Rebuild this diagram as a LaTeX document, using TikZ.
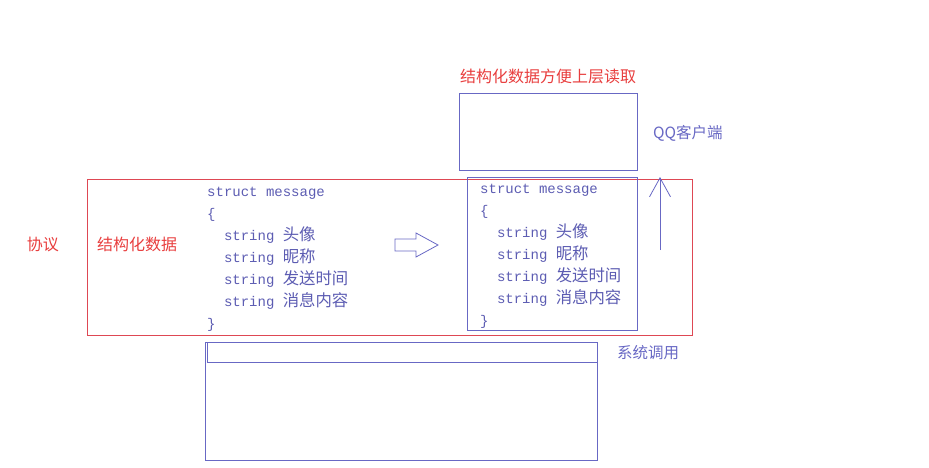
\documentclass[tikz,border=0pt]{standalone}
\usepackage{fontspec}
\setmonofont{Liberation Mono}
\newfontfamily\cjk{Noto Sans CJK SC}
\newfontfamily\cjkcode[Scale=1.17]{Noto Sans CJK SC}
\usetikzlibrary{arrows.meta}
\definecolor{protored}{RGB}{222,72,84}
\definecolor{labelred}{RGB}{232,62,62}
\definecolor{boxblue}{RGB}{104,104,196}
\definecolor{codeblue}{RGB}{92,92,178}
\newcommand{\msgcode}{%
  struct message\\
  \{\\
  \phantom{xx}string {\cjkcode 头像}\\
  \phantom{xx}string {\cjkcode 昵称}\\
  \phantom{xx}string {\cjkcode 发送时间}\\
  \phantom{xx}string {\cjkcode 消息内容}\\
  \}}
\tikzset{
  redlabel/.style={text=labelred,font=\cjk\fontsize{16}{18}\selectfont,inner sep=0pt},
  bluelabel/.style={text=boxblue,font=\cjk\fontsize{15.5}{18}\selectfont,inner sep=0pt},
  codeblock/.style={text=codeblue,align=left,inner sep=0pt,anchor=north west,
    font=\ttfamily\fontsize{14}{22}\selectfont},
  bluebox/.style={draw=boxblue,thick,inner sep=0pt,anchor=north west},
  redbox/.style={draw=protored,thick,inner sep=0pt,anchor=north west}
}
\begin{document}
\begin{tikzpicture}[x=1pt,y=-1pt]
  \useasboundingbox (0,0) rectangle (929,468);
  % protocol layer
  \node[redbox,minimum width=605pt,minimum height=156pt] (proto) at (87,179) {};
  \node[redlabel] (protolbl) at (43,244) {协议};
  \node[redlabel] (structlbl) at (137,244) {结构化数据};
  \node[codeblock] (leftcode) at (207,186.5) {\msgcode};
  % hollow arrow between the two structs
  \draw[boxblue,thick] (395,239) -- (416,239) -- (416,233) -- (438,245)
    -- (416,257) -- (416,251) -- (395,251) -- cycle;
  \node[bluebox,minimum width=170pt,minimum height=153pt] (rightbox) at (467,177) {};
  \node[codeblock] (rightcode) at (480,184) {\msgcode};
  % QQ client
  \node[bluebox,minimum width=178pt,minimum height=77pt] (client) at (459,93) {};
  \node[redlabel] (readlbl) at (548,76) {结构化数据方便上层读取};
  \node[bluelabel,anchor=west] (qqlbl) at (653,133) {QQ客户端};
  \coordinate (upfoot) at (660,250);
  \coordinate (uptip) at (660,177);
  \draw[boxblue,thick,-{Straight Barb[length=19pt,width=21pt]}] (upfoot) -- (uptip);
  % system call
  \node[bluebox,minimum width=392pt,minimum height=118pt] (syscall) at (205,342) {};
  \node[bluebox,minimum width=390pt,minimum height=20pt] (sysstrip) at (207,342) {};
  \node[bluelabel,anchor=west] (syslbl) at (617,353) {系统调用};
\end{tikzpicture}
\end{document}
